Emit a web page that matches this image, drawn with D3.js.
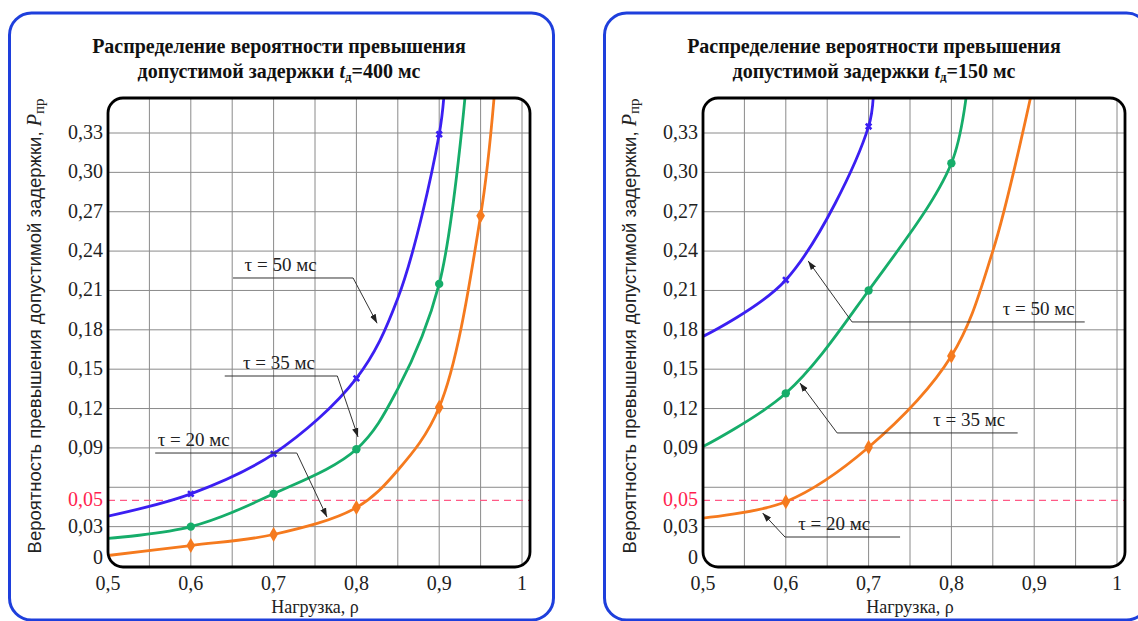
<!DOCTYPE html>
<html>
<head>
<meta charset="utf-8">
<script src="https://cdn.jsdelivr.net/npm/d3@7"></script>
<style>
  body { margin: 0; background: #fff; }
  svg { display: block; }
</style>
</head>
<body>
<svg id="chart" width="1138" height="621"></svg>
<script>
// load (rho) axis
const rhoTicks = [0.5, 0.6, 0.7, 0.8, 0.9, 1];
const rhoGrid = [0.55, 0.6, 0.65, 0.7, 0.75, 0.8, 0.85, 0.9, 0.95, 1];
// probability axis
const probTicks = [0, 0.03, 0.05, 0.09, 0.12, 0.15, 0.18, 0.21, 0.24, 0.27, 0.30, 0.33];
const probGrid = [0.03, 0.06, 0.09, 0.12, 0.15, 0.18, 0.21, 0.24, 0.27, 0.30, 0.33];
const limitP = 0.05;

// t_d = 400 ms
const rho400_50 = [0.5, 0.6, 0.7, 0.8, 0.85, 0.9, 0.907];
const p400_50   = [0.038, 0.055, 0.0855, 0.143, 0.204, 0.329, 0.37];
const rho400_35 = [0.5, 0.6, 0.7, 0.8, 0.85, 0.9, 0.933];
const p400_35   = [0.021, 0.030, 0.055, 0.089, 0.135, 0.215, 0.37];
const rho400_20 = [0.5, 0.6, 0.7, 0.8, 0.85, 0.9, 0.95, 0.968];
const p400_20   = [0.008, 0.0156, 0.024, 0.0445, 0.073, 0.121, 0.267, 0.37];

// t_d = 150 ms
const rho150_50 = [0.5, 0.6, 0.7, 0.706];
const p150_50   = [0.175, 0.218, 0.335, 0.37];
const rho150_35 = [0.5, 0.6, 0.7, 0.8, 0.82];
const p150_35   = [0.091, 0.1316, 0.21, 0.307, 0.37];
const rho150_20 = [0.5, 0.6, 0.7, 0.8, 0.85, 0.9];
const p150_20   = [0.0365, 0.049, 0.0905, 0.16, 0.24, 0.37];

// where markers sit
const marks400 = { b: [0.6, 0.7, 0.8, 0.9], g: [0.6, 0.7, 0.8, 0.9], o: [0.6, 0.7, 0.8, 0.9, 0.95] };
const marks150 = { b: [0.6, 0.7], g: [0.6, 0.7, 0.8], o: [0.6, 0.7, 0.8] };

const tauLabels = ['τ = 50 мс', 'τ = 35 мс', 'τ = 20 мс'];
// callouts: [text start rho, line rho from, line rho to, line p, tip rho, tip p]
const notes400 = [
    [0.665, 0.651, 0.796, 0.2195, 0.825, 0.185],
    [0.663, 0.641, 0.777, 0.1448, 0.802, 0.0983],
    [0.560, 0.557, 0.728, 0.0861, 0.7645, 0.0373]
];
const notes150 = [
    [0.862, 0.680, 0.961, 0.186, 0.627, 0.2325],
    [0.778, 0.662, 0.880, 0.1014, 0.617, 0.1395],
    [0.615, 0.599, 0.738, 0.0221, 0.572, 0.0404]
];

const colors = { b: '#3b1ff2', g: '#16ad6a', o: '#f57a1e' };
const SERIF = "'Liberation Serif'";
const SANS = "'Liberation Sans'";

const svg = d3.select('#chart');
const fmt = v => v === 0 ? '0' : (v === 1 ? '1' : (v < 0.5 ? d3.format('.2f')(v) : String(v)).replace('.', ','));

svg.append('defs').append('marker')
    .attr('id', 'arrow')
    .attr('viewBox', '0 0 10 10')
    .attr('refX', 10).attr('refY', 5)
    .attr('markerWidth', 9).attr('markerHeight', 9)
    .attr('markerUnits', 'userSpaceOnUse')
    .attr('orient', 'auto')
    .append('path')
    .attr('d', 'M0,1.5 L10,5 L0,8.5 Z')
    .attr('fill', '#222');

function drawPanel(ox, td, series, marks, notes) {
    const g = svg.append('g').attr('transform', `translate(${ox},0)`);
    const xScale = d3.scaleLinear().domain([0.5, 1]).range([108, 522]);
    const yScale = d3.scaleLinear().domain([0, 0.33]).range([566, 133]);
    const frame = { x: 108, y: 98, w: 422, h: 469 };

    // blue panel border
    g.append('rect')
        .attr('x', 9.5).attr('y', 13).attr('width', 544).attr('height', 607)
        .attr('rx', 22)
        .attr('fill', '#fff')
        .attr('stroke', '#1e3fdc')
        .attr('stroke-width', 3);

    // title
    const title = g.append('text')
        .style('font-family', SERIF)
        .style('font-size', '20px')
        .style('font-weight', 'bold')
        .attr('text-anchor', 'middle')
        .attr('fill', '#111');
    title.append('tspan').attr('x', 279).attr('y', 53).text('Распределение вероятности превышения');
    title.append('tspan').attr('x', 279).attr('y', 78).text('допустимой задержки ');
    title.append('tspan').style('font-style', 'italic').text('t');
    title.append('tspan').style('font-size', '13px').attr('dy', 3).text('д');
    title.append('tspan').attr('dy', -3).text(`=${td} мс`);

    const clipId = 'clip' + td;
    g.append('clipPath').attr('id', clipId)
        .append('rect')
        .attr('x', frame.x).attr('y', frame.y).attr('width', frame.w).attr('height', frame.h)
        .attr('rx', 15);

    const plot = g.append('g').attr('clip-path', `url(#${clipId})`);

    // grid
    plot.selectAll('.vg').data(rhoGrid).join('line')
        .attr('x1', d => xScale(d)).attr('x2', d => xScale(d))
        .attr('y1', frame.y).attr('y2', frame.y + frame.h)
        .attr('stroke', '#8a8a8a').attr('stroke-width', 1);
    plot.selectAll('.hg').data(probGrid).join('line')
        .attr('x1', frame.x).attr('x2', frame.x + frame.w)
        .attr('y1', d => yScale(d)).attr('y2', d => yScale(d))
        .attr('stroke', '#8a8a8a').attr('stroke-width', 1);

    // 0.05 limit
    plot.append('line')
        .attr('x1', frame.x).attr('x2', frame.x + frame.w)
        .attr('y1', yScale(limitP)).attr('y2', yScale(limitP))
        .attr('stroke', '#ff5a86').attr('stroke-width', 1.3)
        .attr('stroke-dasharray', '7,5');

    const line = d3.line()
        .x(d => xScale(d[0]))
        .y(d => yScale(d[1]))
        .curve(d3.curveCatmullRom.alpha(0.5));

    series.forEach(s => {
        const pts = s.rho.map((r, i) => [r, s.p[i]]);
        plot.append('path')
            .datum(pts)
            .attr('d', line)
            .attr('fill', 'none')
            .attr('stroke', colors[s.key])
            .attr('stroke-width', 2.8);
        const shape = s.key === 'b' ? d3.symbolCross : (s.key === 'g' ? d3.symbolCircle : d3.symbolDiamond);
        const size = s.key === 'b' ? 34 : (s.key === 'g' ? 55 : 65);
        const mpts = pts.filter(d => marks[s.key].includes(d[0]));
        plot.selectAll(null).data(mpts).join('path')
            .attr('transform', d => `translate(${xScale(d[0])},${yScale(d[1])})` + (s.key === 'b' ? ' rotate(45)' : ''))
            .attr('d', d3.symbol().type(shape).size(size))
            .attr('fill', colors[s.key]);
    });

    // frame
    g.append('rect')
        .attr('x', frame.x).attr('y', frame.y).attr('width', frame.w).attr('height', frame.h)
        .attr('rx', 15)
        .attr('fill', 'none')
        .attr('stroke', '#000')
        .attr('stroke-width', 2.8);

    // callouts
    notes.forEach((n, i) => {
        const ly = yScale(n[3]);
        g.append('line')
            .attr('x1', xScale(n[1])).attr('x2', xScale(n[2]))
            .attr('y1', ly).attr('y2', ly)
            .attr('stroke', '#333').attr('stroke-width', 1);
        const fromX = (n[4] > n[2]) ? xScale(n[2]) : xScale(n[1]);
        g.append('line')
            .attr('x1', fromX).attr('y1', ly)
            .attr('x2', xScale(n[4])).attr('y2', yScale(n[5]))
            .attr('stroke', '#333').attr('stroke-width', 1)
            .attr('marker-end', 'url(#arrow)');
        g.append('text')
            .style('font-family', SERIF).style('font-size', '19px')
            .attr('x', xScale(n[0])).attr('y', ly - 7)
            .attr('fill', '#222')
            .text(tauLabels[i]);
    });

    // tick labels
    g.selectAll('.xt').data(rhoTicks).join('text')
        .style('font-family', SERIF).style('font-size', '20px')
        .attr('x', d => xScale(d)).attr('y', 590)
        .attr('text-anchor', 'middle')
        .attr('fill', '#222')
        .text(d => fmt(d));
    g.selectAll('.yt').data(probTicks).join('text')
        .style('font-family', SERIF).style('font-size', '20px')
        .attr('x', 103)
        .attr('y', d => yScale(d) + (d === 0 ? -2 : 6))
        .attr('text-anchor', 'end')
        .attr('fill', d => d === limitP ? '#ff1f4f' : '#222')
        .text(d => fmt(d));

    // axis titles
    g.append('text')
        .style('font-family', SERIF).style('font-size', '18px')
        .attr('x', 315).attr('y', 613)
        .attr('text-anchor', 'middle')
        .attr('fill', '#222')
        .text('Нагрузка, ρ');

    const yl = g.append('text')
        .style('font-family', SANS).style('font-size', '18.5px')
        .attr('transform', 'translate(41,326) rotate(-90)')
        .attr('text-anchor', 'middle')
        .attr('fill', '#222');
    yl.append('tspan').text('Вероятность превышения допустимой задержки, ');
    yl.append('tspan').style('font-family', SERIF).style('font-style', 'italic').style('font-size', '20px').text('P');
    yl.append('tspan').style('font-family', SERIF).style('font-size', '15px').attr('dy', 3).text('пр');
}

drawPanel(0, 400, [
    { key: 'b', rho: rho400_50, p: p400_50 },
    { key: 'g', rho: rho400_35, p: p400_35 },
    { key: 'o', rho: rho400_20, p: p400_20 }
], marks400, notes400);

drawPanel(595, 150, [
    { key: 'b', rho: rho150_50, p: p150_50 },
    { key: 'g', rho: rho150_35, p: p150_35 },
    { key: 'o', rho: rho150_20, p: p150_20 }
], marks150, notes150);
</script>
</body>
</html>
